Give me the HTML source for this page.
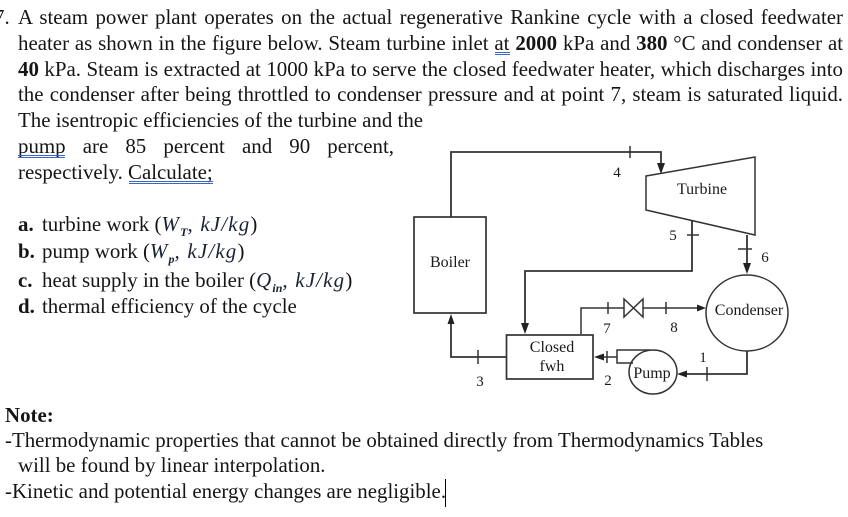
<!DOCTYPE html>
<html>
<head>
<meta charset="utf-8">
<style>
html,body{margin:0;padding:0;background:#fff;}
#p{position:relative;width:848px;height:517px;overflow:hidden;background:#fff;color:#151515;font-family:"Liberation Serif",serif;font-size:20.9px;line-height:24px;}
.l{position:absolute;white-space:nowrap;height:24px;}
.j{text-align:justify;text-align-last:justify;white-space:normal;}
.u{position:absolute;height:1px;border-top:1px solid #3a66c8;border-bottom:1px solid #3a66c8;}
.m{font-style:italic;letter-spacing:1.2px;color:#1a2233;}
.m sub{font-size:12px;line-height:0;font-weight:bold;letter-spacing:0;}
svg{position:absolute;left:0;top:0;}
svg text{font-family:"Liberation Serif",serif;font-size:16px;fill:#1a1a1a;text-anchor:middle;}
svg text.n{font-size:15px;}
</style>
</head>
<body>
<div id="p">
<div class="l" style="left:-6px;top:5px;">7.</div>
<div class="l j" style="left:18px;top:5px;width:825px;">A steam power plant operates on the actual regenerative Rankine cycle with a closed feedwater</div>
<div class="l j" style="left:18px;top:31px;width:825px;">heater as shown in the figure below. Steam turbine inlet at <b>2000</b> kPa and <b>380</b> °C and condenser at</div>
<div class="l j" style="left:18px;top:57px;width:825px;"><b>40</b> kPa. Steam is extracted at 1000 kPa to serve the closed feedwater heater, which discharges into</div>
<div class="l j" style="left:18px;top:82px;width:825px;">the condenser after being throttled to condenser pressure and at point 7, steam is saturated liquid.</div>
<div class="l" style="left:18px;top:108px;">The isentropic efficiencies of the turbine and the</div>
<div class="l j" style="left:18px;top:134px;width:376px;">pump are 85 percent and 90 percent,</div>
<div class="l" style="left:18px;top:160px;">respectively. Calculate;</div>
<div class="u" style="left:495px;top:52px;width:15px;"></div>
<div class="u" style="left:18px;top:155px;width:47px;"></div>
<div class="u" style="left:129px;top:181px;width:84px;"></div>

<div class="l" style="left:18px;top:212px;"><b>a.</b></div>
<div class="l" style="left:42px;top:212px;">turbine work (<span class="m">W<sub>T</sub>, kJ/kg</span>)</div>
<div class="l" style="left:18px;top:239px;"><b>b.</b></div>
<div class="l" style="left:42px;top:239px;">pump work (<span class="m">W<sub>p</sub>, kJ/kg</span>)</div>
<div class="l" style="left:18px;top:268px;"><b>c.</b></div>
<div class="l" style="left:42px;top:268px;">heat supply in the boiler (<span class="m">Q<sub>in</sub>, kJ/kg</span>)</div>
<div class="l" style="left:18px;top:294px;"><b>d.</b></div>
<div class="l" style="left:42px;top:294px;">thermal efficiency of the cycle</div>

<div class="l" style="left:5px;top:403px;"><b>Note:</b></div>
<div class="l" style="left:5px;top:428px;">-Thermodynamic properties that cannot be obtained directly from Thermodynamics Tables</div>
<div class="l" style="left:18px;top:453px;">will be found by linear interpolation.</div>
<div class="l" style="left:5px;top:479px;">-Kinetic and potential energy changes are negligible.</div>
<div style="position:absolute;left:445px;top:479px;width:1px;height:28px;background:#000;"></div>

<svg width="848" height="517" viewBox="0 0 848 517">
<g fill="none" stroke="#333" stroke-width="1.5">
<rect x="414" y="217" width="72" height="96" stroke-width="1.7"/>
<rect x="506.5" y="335" width="86.5" height="44" stroke-width="1.7"/>
<polygon points="646,176 755,157 755,235 646,210"/>
<ellipse cx="747" cy="313" rx="41" ry="38"/>
<ellipse cx="653" cy="372" rx="24" ry="22"/>
<path d="M451 217V152H661V165" stroke-width="1.8"/>
<path d="M692 221V271H525V326" stroke-width="1.8"/>
<path d="M747 235V266" stroke-width="1.8"/>
<path d="M506 357H451V322" stroke-width="1.8"/>
<path d="M581 334V308H624M643 308H700"/>
<path d="M624 299V317L643 299V317Z"/>
<path d="M650 350H617V363H633"/>
<path d="M617 357H600"/>
<path d="M747 351V374H685" stroke-width="1.8"/>
<path d="M630 146V158M687 235H699M738 249H752M608 302V314M666 302V314M478 350V364M607 351V363M707 367V381"/>
</g>
<g fill="#222" stroke="none">
<polygon points="661,174 657,163 665,163"/>
<polygon points="525,334 521,323 529,323"/>
<polygon points="747,274 743,263 751,263"/>
<polygon points="451,314 447.5,324 454.5,324"/>
<polygon points="706,308 697,304.5 697,311.5"/>
<polygon points="594,357 604,353.5 604,360.5"/>
<polygon points="677,374 687,370.5 687,377.5"/>
</g>
<text x="450" y="267">Boiler</text>
<text x="552" y="352">Closed</text>
<text x="552" y="371">fwh</text>
<text x="702" y="194">Turbine</text>
<text x="749" y="315">Condenser</text>
<text x="652" y="378">Pump</text>
<text class="n" x="617" y="177">4</text>
<text class="n" x="673" y="240">5</text>
<text class="n" x="765" y="262">6</text>
<text class="n" x="607" y="333">7</text>
<text class="n" x="674" y="332">8</text>
<text class="n" x="703" y="362">1</text>
<text class="n" x="608" y="385">2</text>
<text class="n" x="480" y="386">3</text>
</svg>
</div>
</body>
</html>
